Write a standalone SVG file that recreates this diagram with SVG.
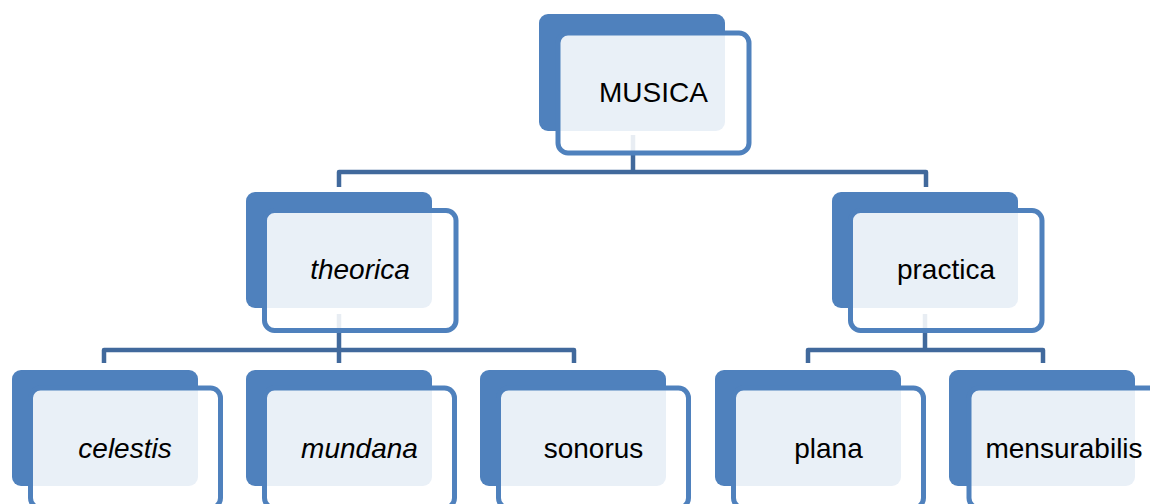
<svg xmlns="http://www.w3.org/2000/svg" width="1150" height="504" viewBox="0 0 1150 504">
<style>
.bg{fill:#4F81BD}
.fr{fill:#FFFFFF;fill-opacity:0.88;stroke:#4F81BD;stroke-width:5}
.c{fill:none;stroke:#41699C;stroke-width:4.5;stroke-linejoin:round}
.t{font-family:"Liberation Sans",Arial,sans-serif;font-size:28px;fill:#000;text-anchor:middle}
.i{font-style:italic}
</style>
<rect width="1150" height="504" fill="#FFFFFF"/>
<g id="connectors">
<path class="c" d="M633,135V172M339,187V172H926V187"/>
<path class="c" d="M339,314V350M104,363V350H574V363M339,350V363"/>
<path class="c" d="M925,314V350M808,363V350H1043V363"/>
</g>
<g id="musica">
<rect class="bg" x="539" y="14" width="186" height="117" rx="9"/>
<rect class="fr" x="558" y="33" width="191" height="120" rx="10"/>
<text class="t" x="653.5" y="102">MUSICA</text>
</g>
<g id="theorica">
<rect class="bg" x="246" y="192" width="186" height="116" rx="9"/>
<rect class="fr" x="264.5" y="210.5" width="191.5" height="120" rx="10"/>
<text class="t i" x="360" y="279">theorica</text>
</g>
<g id="practica">
<rect class="bg" x="832" y="192" width="186" height="116" rx="9"/>
<rect class="fr" x="850.5" y="210.5" width="191.5" height="120" rx="10"/>
<text class="t" x="946" y="279">practica</text>
</g>
<g id="celestis">
<rect class="bg" x="12" y="370" width="186" height="116" rx="9"/>
<rect class="fr" x="30.5" y="388" width="190" height="120" rx="10"/>
<text class="t i" x="125" y="458">celestis</text>
</g>
<g id="mundana">
<rect class="bg" x="246" y="370" width="186" height="116" rx="9"/>
<rect class="fr" x="264.5" y="388" width="190" height="120" rx="10"/>
<text class="t i" x="359.5" y="458">mundana</text>
</g>
<g id="sonorus">
<rect class="bg" x="480" y="370" width="186" height="116" rx="9"/>
<rect class="fr" x="498.5" y="388" width="190" height="120" rx="10"/>
<text class="t" x="593.5" y="458">sonorus</text>
</g>
<g id="plana">
<rect class="bg" x="715" y="370" width="186" height="116" rx="9"/>
<rect class="fr" x="733.5" y="388" width="190" height="120" rx="10"/>
<text class="t" x="828.5" y="458">plana</text>
</g>
<g id="mensurabilis">
<rect class="bg" x="949" y="370" width="186" height="116" rx="9"/>
<rect class="fr" x="969" y="388" width="191" height="120" rx="10"/>
<text class="t" x="1064" y="458">mensurabilis</text>
</g>
</svg>
